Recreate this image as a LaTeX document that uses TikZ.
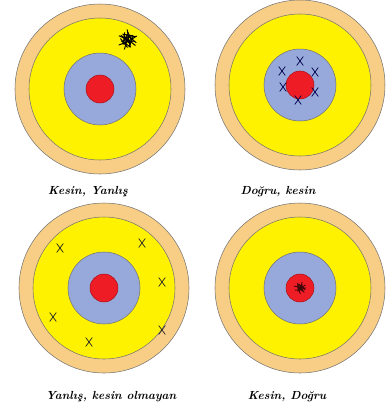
\documentclass[tikz,border=0pt]{standalone}
\usepackage{tikz}
\usetikzlibrary{shapes.misc}
\definecolor{ringtan}{HTML}{F8CE86}
\definecolor{ringyellow}{HTML}{FFF200}
\definecolor{ringblue}{HTML}{97A9DA}
\definecolor{bullred}{HTML}{EE1D25}

\begin{document}
\begin{tikzpicture}[x=0.03cm, y=-0.03cm,
  ring/.style={draw=black!55, line width=0.45pt},
  hit/.style={cross out, draw=black!85, line width=0.6pt, inner sep=0pt,
    minimum width=5pt, minimum height=7pt},
  caption/.style={font=\normalsize\bfseries\itshape}]
\useasboundingbox (0,0) rectangle (388,410);

% the four targets
\foreach \cx/\cy in {100/89, 300/85, 104/288, 300/288} {
  \filldraw[ring, fill=ringtan] (\cx,\cy) circle[radius=85];
  \filldraw[ring, fill=ringyellow] (\cx,\cy) circle[radius=71];
  \filldraw[ring, fill=ringblue] (\cx,\cy) circle[radius=36];
  \filldraw[ring, fill=bullred, draw=bullred!70!black] (\cx,\cy) circle[radius=14];
}

% precise, not accurate
\foreach \dx/\dy/\r [count=\i] in {0/0/0, -3/-2/30, 3/-3/60, 4/2/15, -3/3/75, 1/-5/45, 5/-1/85, -1/4/20, 2/1/50, -2/-1/10} {
  \node[hit, draw=black, line width=0.8pt, rotate=\r] (a\i) at (127+\dx,40+\dy) {};
}

% accurate and precise
\node[hit, draw=black!70!blue] (b1) at (300,61) {};
\node[hit, draw=black!70!blue] (b2) at (282,71) {};
\node[hit, draw=black!70!blue] (b3) at (315,72) {};
\node[hit, draw=black!70!blue] (b4) at (283,87) {};
\node[hit, draw=black!70!blue] (b5) at (315,92) {};
\node[hit, draw=black!70!blue] (b6) at (298,100) {};

% neither
\node[hit] (c1) at (60,248) {};
\node[hit] (c2) at (142,243) {};
\node[hit] (c3) at (162,282) {};
\node[hit] (c4) at (53,317) {};
\node[hit] (c5) at (89,342) {};
\node[hit] (c6) at (162,330) {};

% bullseye group
\foreach \dx/\dy/\r [count=\i] in {0/0/0, -2/-1/40, 2/1/70, 1/-2/20, -1/2/55, 2/-1/85} {
  \node[hit, draw=black!75!bullred, line width=0.7pt, minimum width=3.5pt,
    minimum height=5pt, rotate=\r] (d\i) at (300+\dx,288+\dy) {};
}

% captions
\node[caption] (capA) at (88,192) {Kesin, Yanlış};
\node[caption] (capB) at (278,192) {Doğru, kesin};
\node[caption] (capC) at (111,397) {Yanlış, kesin olmayan};
\node[caption] (capD) at (287,397) {Kesin, Doğru};
\end{tikzpicture}
\end{document}
